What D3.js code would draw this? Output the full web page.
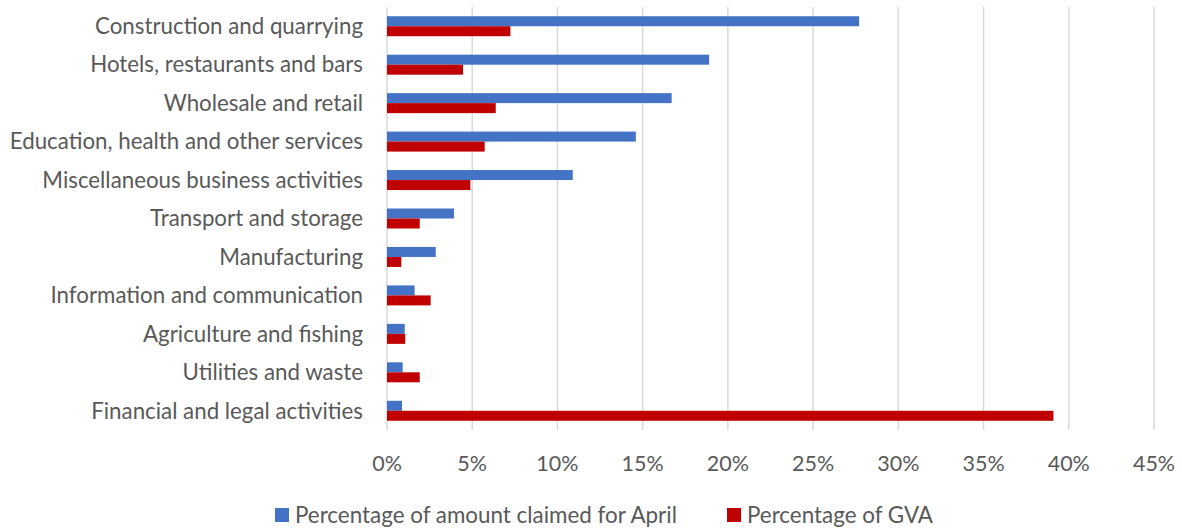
<!DOCTYPE html>
<html>
<head>
<meta charset="utf-8">
<script src="https://cdn.jsdelivr.net/npm/d3@7"></script>
<style>
  body { margin: 0; background: #fff; }
  svg text { font-family: Lato, "Open Sans", sans-serif; fill: #595959; }
</style>
</head>
<body>
<div id="chart"></div>
<script>
// Sector names, top to bottom
const sectors = [
    "Construction and quarrying",
    "Hotels, restaurants and bars",
    "Wholesale and retail",
    "Education, health and other services",
    "Miscellaneous business activities",
    "Transport and storage",
    "Manufacturing",
    "Information and communication",
    "Agriculture and fishing",
    "Utilities and waste",
    "Financial and legal activities"
];

// Percentage of amount claimed for April
const claimed = [27.7, 18.9, 16.7, 14.6, 10.9, 3.93, 2.86, 1.62, 1.04, 0.92, 0.88];
// Percentage of GVA
const gva = [7.24, 4.46, 6.38, 5.73, 4.89, 1.92, 0.84, 2.56, 1.07, 1.92, 39.1];

const seriesNames = ["Percentage of amount claimed for April", "Percentage of GVA"];
const seriesColors = ["#4472c4", "#c00000"];
const xTicks = [0, 5, 10, 15, 20, 25, 30, 35, 40, 45];

const width = 1182, height = 529;
const margin = { top: 7, right: 28, bottom: 99, left: 387 };

const svg = d3.select("#chart")
    .append("svg")
    .attr("width", width)
    .attr("height", height);

const g = svg.append("g")
    .attr("transform", `translate(${margin.left}, ${margin.top})`);

const innerW = width - margin.left - margin.right;
const innerH = height - margin.top - margin.bottom;

const x = d3.scaleLinear().domain([0, 45]).range([0, innerW]);

const y = d3.scaleBand()
    .domain(sectors)
    .range([0, innerH])
    .paddingInner(0.48)
    .paddingOuter(0.24);

// Gridlines
g.selectAll(".grid")
    .data(xTicks)
    .enter()
    .append("line")
    .attr("class", "grid")
    .attr("x1", d => x(d))
    .attr("x2", d => x(d))
    .attr("y1", 0)
    .attr("y2", innerH)
    .attr("stroke", "#d9d9d9")
    .attr("stroke-width", 1.5);

// Bars, two per sector
const rows = sectors.map((s, i) => ({ sector: s, values: [claimed[i], gva[i]] }));
const sub = d3.scaleBand().domain([0, 1]).range([0, y.bandwidth()]);

const row = g.selectAll(".row")
    .data(rows)
    .enter()
    .append("g")
    .attr("class", "row")
    .attr("transform", d => `translate(0, ${y(d.sector)})`);

row.selectAll("rect")
    .data(d => d.values)
    .enter()
    .append("rect")
    .attr("x", x(0))
    .attr("y", (v, i) => sub(i))
    .attr("width", v => x(v) - x(0))
    .attr("height", sub.bandwidth())
    .attr("fill", (v, i) => seriesColors[i]);

// Category labels
g.selectAll(".cat")
    .data(sectors)
    .enter()
    .append("text")
    .attr("class", "cat")
    .attr("x", -24)
    .attr("y", d => y(d) + y.bandwidth() / 2)
    .attr("dy", "0.35em")
    .attr("text-anchor", "end")
    .attr("font-size", 22.3)
    .text(d => d);

// X axis labels
g.selectAll(".xlab")
    .data(xTicks)
    .enter()
    .append("text")
    .attr("class", "xlab")
    .attr("x", d => x(d))
    .attr("y", innerH + 33)
    .attr("dy", "0.35em")
    .attr("text-anchor", "middle")
    .attr("font-size", 21.5)
    .text(d => d + "%");

// Legend
const legendX = [275, 727];
const legend = svg.selectAll(".legend")
    .data(seriesNames)
    .enter()
    .append("g")
    .attr("class", "legend")
    .attr("transform", (d, i) => `translate(${legendX[i]}, 515)`);

legend.append("rect")
    .attr("x", 0)
    .attr("y", -7)
    .attr("width", 14)
    .attr("height", 14)
    .attr("fill", (d, i) => seriesColors[i]);

legend.append("text")
    .attr("x", 20)
    .attr("y", 0)
    .attr("dy", "0.35em")
    .attr("font-size", 22.4)
    .text(d => d);
</script>
</body>
</html>
